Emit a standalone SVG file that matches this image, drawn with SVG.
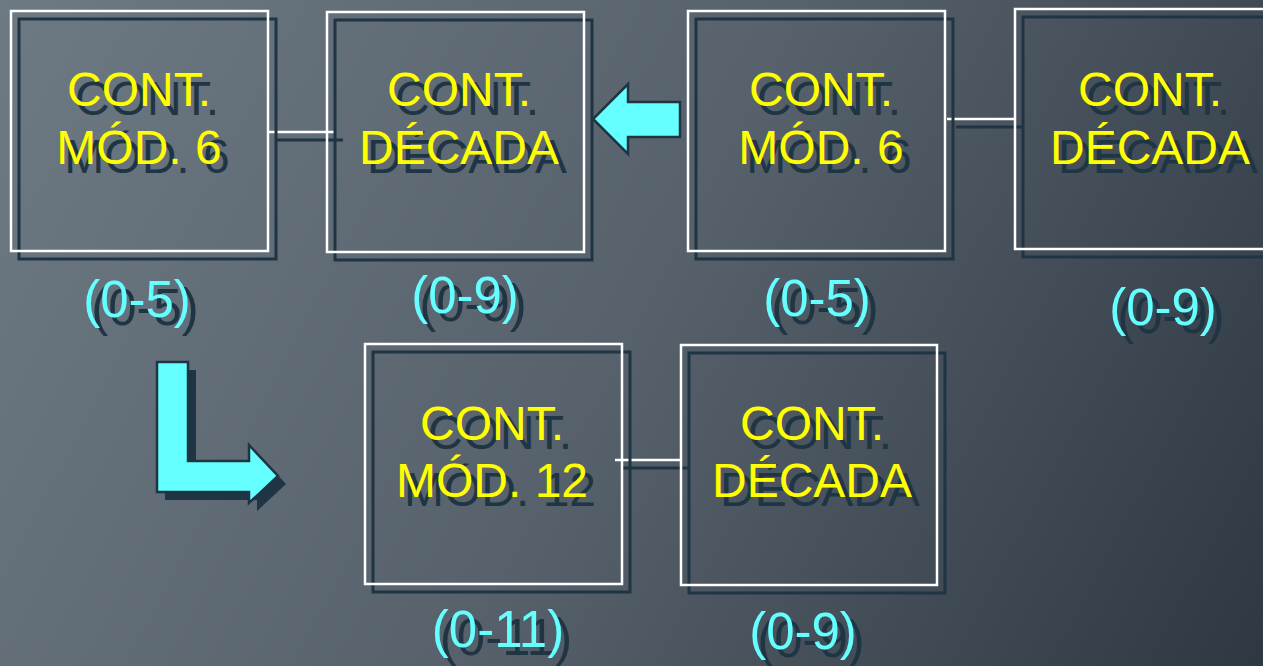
<svg xmlns="http://www.w3.org/2000/svg" width="1263" height="666" viewBox="0 0 1263 666">
<defs>
<linearGradient id="bg" gradientUnits="userSpaceOnUse" x1="0" y1="0" x2="1263" y2="666">
<stop offset="0" stop-color="#6d7983"/>
<stop offset="0.5" stop-color="#56616c"/>
<stop offset="1" stop-color="#2d3843"/>
</linearGradient>
<style>
.box{fill:none;stroke:#ffffff;stroke-width:2.5}
.boxsh{fill:none;stroke:#1f3543;stroke-width:3}
.ln{stroke:#ffffff;stroke-width:2.5}
.lnsh{stroke:#1f3543;stroke-width:3}
.t{font-family:"Liberation Sans",Arial,sans-serif;font-size:48px;text-anchor:middle;fill:#ffff00}
.tsh{font-family:"Liberation Sans",Arial,sans-serif;font-size:48px;text-anchor:middle;fill:#1f3543}
.l{font-family:"Liberation Sans",Arial,sans-serif;font-size:51px;text-anchor:middle;fill:#66ffff}
.lsh{font-family:"Liberation Sans",Arial,sans-serif;font-size:51px;text-anchor:middle;fill:#1f3543}
.arr{fill:#66ffff;stroke:#1f3543;stroke-width:2.5;stroke-linejoin:miter}
.arrsh{fill:#1f3543}
</style>
</defs>
<rect x="0" y="0" width="1263" height="666" fill="url(#bg)"/>

<g id="connectors">
<line class="lnsh" x1="277" y1="140" x2="343" y2="140"/>
<line class="ln" x1="269" y1="132" x2="335" y2="132"/>
<line class="lnsh" x1="956" y1="127" x2="1023" y2="127"/>
<line class="ln" x1="947" y1="119" x2="1015" y2="119"/>
<line class="lnsh" x1="623" y1="468" x2="690" y2="468"/>
<line class="ln" x1="615" y1="460" x2="681" y2="460"/>
</g>

<g id="box1">
<rect class="boxsh" x="19" y="19" width="257" height="240"/>
<rect class="box" x="11" y="11" width="257" height="240"/>
<text class="tsh" x="147" y="115">CONT.</text>
<text class="tsh" x="147" y="173">MÓD. 6</text>
<text class="t" x="139" y="106">CONT.</text>
<text class="t" x="139" y="164">MÓD. 6</text>
<text class="lsh" x="145" y="325">(0-5)</text>
<text class="l" x="137" y="317">(0-5)</text>
</g>

<g id="box2">
<rect class="boxsh" x="335" y="20" width="257" height="240"/>
<rect class="box" x="327" y="12" width="257" height="240"/>
<text class="tsh" x="467" y="115">CONT.</text>
<text class="tsh" x="467" y="173">DÉCADA</text>
<text class="t" x="459" y="106">CONT.</text>
<text class="t" x="459" y="164">DÉCADA</text>
<text class="lsh" x="473" y="321">(0-9)</text>
<text class="l" x="465" y="313">(0-9)</text>
</g>

<g id="box3">
<rect class="boxsh" x="696" y="19" width="257" height="240"/>
<rect class="box" x="688" y="11" width="257" height="240"/>
<text class="tsh" x="829" y="115">CONT.</text>
<text class="tsh" x="829" y="173">MÓD. 6</text>
<text class="t" x="821" y="106">CONT.</text>
<text class="t" x="821" y="164">MÓD. 6</text>
<text class="lsh" x="825" y="324">(0-5)</text>
<text class="l" x="817" y="316">(0-5)</text>
</g>

<g id="box4">
<rect class="boxsh" x="1023" y="17" width="265" height="240"/>
<rect class="box" x="1015" y="9" width="265" height="240"/>
<text class="tsh" x="1158" y="115">CONT.</text>
<text class="tsh" x="1158" y="173">DÉCADA</text>
<text class="t" x="1150" y="106">CONT.</text>
<text class="t" x="1150" y="164">DÉCADA</text>
<text class="lsh" x="1171" y="333">(0-9)</text>
<text class="l" x="1163" y="325">(0-9)</text>
</g>

<g id="box5">
<rect class="boxsh" x="373" y="352" width="257" height="240"/>
<rect class="box" x="365" y="344" width="257" height="240"/>
<text class="tsh" x="500" y="449">CONT.</text>
<text class="tsh" x="500" y="506">MÓD. 12</text>
<text class="t" x="492" y="440">CONT.</text>
<text class="t" x="492" y="497">MÓD. 12</text>
<text class="lsh" x="506" y="655">(0-11)</text>
<text class="l" x="498" y="647">(0-11)</text>
</g>

<g id="box6">
<rect class="boxsh" x="689" y="353" width="256" height="240"/>
<rect class="box" x="681" y="345" width="256" height="240"/>
<text class="tsh" x="820" y="449">CONT.</text>
<text class="tsh" x="820" y="506">DÉCADA</text>
<text class="t" x="812" y="440">CONT.</text>
<text class="t" x="812" y="497">DÉCADA</text>
<text class="lsh" x="811" y="657">(0-9)</text>
<text class="l" x="803" y="649">(0-9)</text>
</g>

<g id="arrow-left">
<polygon class="arr" points="593,119 628,84 628,102 680,102 680,137 628,137 628,154"/>
</g>

<g id="arrow-L">
<polygon class="arrsh" points="165,370 196,370 196,469 257,469 257,453 286,484 257,511 257,500 165,500"/>
<polygon class="arr" points="157,362 188,362 188,461 249,461 249,445 278,476 249,503 249,492 157,492"/>
</g>
</svg>
